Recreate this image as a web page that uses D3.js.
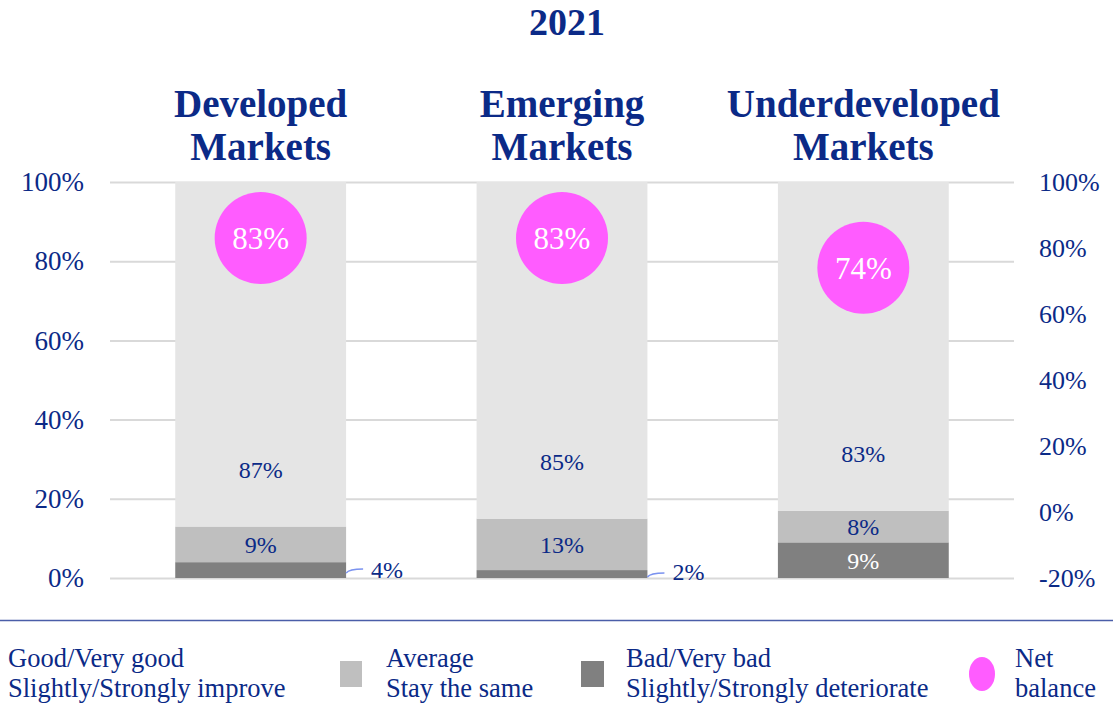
<!DOCTYPE html>
<html lang="en">
<head>
	<meta charset="UTF-8">
	<title>2021</title>
	<style type="text/css">
	body { margin: 0; background: #fff; }
	text { font-family: "Liberation Serif", "Times New Roman", serif; fill: #0b2a87; }
	.axis .domain { stroke: none; }
	.axis .tick line { stroke: #d9d9d9; stroke-width: 2; }
	</style>
</head>
<body>
</body>
<script src="https://cdn.jsdelivr.net/npm/d3@7/dist/d3.min.js"></script>
<script>
var markets = ['Developed|Markets', 'Emerging|Markets', 'Underdeveloped|Markets']
var bad = [4, 2, 9]
var average = [9, 13, 8]
var good = [87, 85, 83]
var netBalance = [83, 83, 74]
var leftTicks = [0, 20, 40, 60, 80, 100]
var rightTicks = [-20, 0, 20, 40, 60, 80, 100]
var legendLabels = [
	['Good/Very good', 'Slightly/Strongly improve'],
	['Average', 'Stay the same'],
	['Bad/Very bad', 'Slightly/Strongly deteriorate'],
	['Net', 'balance']
]

var colors = {bad: '#808080', average: '#bfbfbf', good: '#e5e5e5', net: '#ff5cff'}

var width = 1117, height = 707

var svg = d3.select('body').append('svg')
	.attr('width', width)
	.attr('height', height)

var x = d3.scaleBand()
	.domain(markets)
	.range([110, 1014])
	.paddingInner(0.433)
	.paddingOuter(0.2165)

var y = d3.scaleLinear().domain([0, 100]).range([578, 182])
var y2 = d3.scaleLinear().domain([-20, 100]).range([578, 182])

// gridlines + left axis
svg.append('g')
	.attr('class', 'axis')
	.attr('transform', 'translate(110,0)')
	.call(d3.axisLeft(y).tickValues(leftTicks).tickSize(-904).tickPadding(26).tickFormat(function (d) { return d + '%' }))
	.call(function (g) {
		g.selectAll('text').style('font-size', '27px').attr('fill', '#0b2a87')
	})

svg.append('g')
	.attr('class', 'axis')
	.attr('transform', 'translate(1014,0)')
	.call(d3.axisRight(y2).tickValues(rightTicks).tickSize(0).tickPadding(25).tickFormat(function (d) { return d + '%' }))
	.call(function (g) {
		g.selectAll('text').style('font-size', '26px').attr('fill', '#0b2a87')
	})

var rows = markets.map(function (m, i) {
	return {market: m, bad: bad[i], average: average[i], good: good[i], net: netBalance[i]}
})

var stack = d3.stack().keys(['bad', 'average', 'good'])(rows)

var layer = svg.append('g').selectAll('g')
	.data(stack)
	.enter().append('g')
	.attr('fill', function (s) { return colors[s.key] })

layer.selectAll('rect')
	.data(function (s) { return s })
	.enter().append('rect')
	.attr('x', function (d) { return x(d.data.market) })
	.attr('width', x.bandwidth())
	.attr('y', function (d) { return y(d[1]) })
	.attr('height', function (d) { return y(d[0]) - y(d[1]) })

// segment labels
stack.forEach(function (s) {
	s.forEach(function (d) {
		var v = d[1] - d[0]
		var cx = x(d.data.market) + x.bandwidth() / 2
		var ly = (d[0] + d[1]) / 2
		if (s.key === 'good') ly = d[0] + 14.5
		if (s.key === 'bad' && v < 5) {
			var x0 = x(d.data.market) + x.bandwidth()
			var yy = y(ly)
			svg.append('path')
				.attr('d', 'M' + x0 + ',' + (yy + 3) + 'Q' + (x0 + 3) + ',' + (yy - 1) + ' ' + (x0 + 17) + ',' + (yy - 1))
				.attr('fill', 'none')
				.attr('stroke', '#7b93f0')
				.attr('stroke-width', 1.5)
			svg.append('text')
				.attr('x', x0 + 25)
				.attr('y', Math.min(yy, 572))
				.attr('dy', '0.35em')
				.style('font-size', '24px')
				.text(v + '%')
			return
		}
		svg.append('text')
			.attr('x', cx)
			.attr('y', y(ly))
			.attr('dy', '0.35em')
			.attr('text-anchor', 'middle')
			.style('font-size', '24px')
			.style('fill', s.key === 'bad' ? '#fff' : '#0b2a87')
			.text(v + '%')
	})
})

// net balance bubbles
var bubble = svg.append('g').selectAll('g')
	.data(rows)
	.enter().append('g')
	.attr('transform', function (d) {
		return 'translate(' + (x(d.market) + x.bandwidth() / 2) + ',' + y2(d.net) + ')'
	})

bubble.append('circle')
	.attr('r', 46)
	.attr('fill', colors.net)

bubble.append('text')
	.attr('text-anchor', 'middle')
	.attr('dy', '0.35em')
	.style('font-size', '31px')
	.style('fill', '#fff')
	.text(function (d) { return d.net + '%' })

// category titles
svg.append('g').selectAll('text')
	.data(markets)
	.enter().append('text')
	.attr('x', function (d) { return x(d) + x.bandwidth() / 2 })
	.attr('y', 117)
	.attr('text-anchor', 'middle')
	.style('font-size', '39px')
	.style('font-weight', 'bold')
	.each(function (d) {
		var parts = d.split('|')
		d3.select(this).selectAll('tspan')
			.data(parts)
			.enter().append('tspan')
			.attr('x', x(d) + x.bandwidth() / 2)
			.attr('dy', function (p, i) { return i ? 43 : 0 })
			.text(function (p) { return p })
	})

svg.append('text')
	.attr('x', 567)
	.attr('y', 35)
	.attr('text-anchor', 'middle')
	.style('font-size', '38px')
	.style('font-weight', 'bold')
	.text('2021')

// legend
svg.append('line')
	.attr('x1', 0).attr('x2', 1113)
	.attr('y1', 620.5).attr('y2', 620.5)
	.attr('stroke', '#4a5ea8')
	.attr('stroke-width', 1.5)

var legendX = [8, 386, 626, 1015]
var legend = svg.append('g').selectAll('g')
	.data(legendLabels)
	.enter().append('g')
	.attr('transform', function (d, i) { return 'translate(' + legendX[i] + ',0)' })

legend.append('text')
	.style('font-size', '26.5px')
	.each(function (d) {
		d3.select(this).selectAll('tspan')
			.data(d)
			.enter().append('tspan')
			.attr('x', 0)
			.attr('y', function (p, i) { return 667 + i * 30 })
			.text(function (p) { return p })
	})

svg.append('rect').attr('x', 340).attr('y', 661).attr('width', 22).attr('height', 26).attr('fill', colors.average)
svg.append('rect').attr('x', 581).attr('y', 661).attr('width', 23).attr('height', 26).attr('fill', colors.bad)
svg.append('ellipse').attr('cx', 982).attr('cy', 674).attr('rx', 13).attr('ry', 17).attr('fill', colors.net)
</script>
</html>
